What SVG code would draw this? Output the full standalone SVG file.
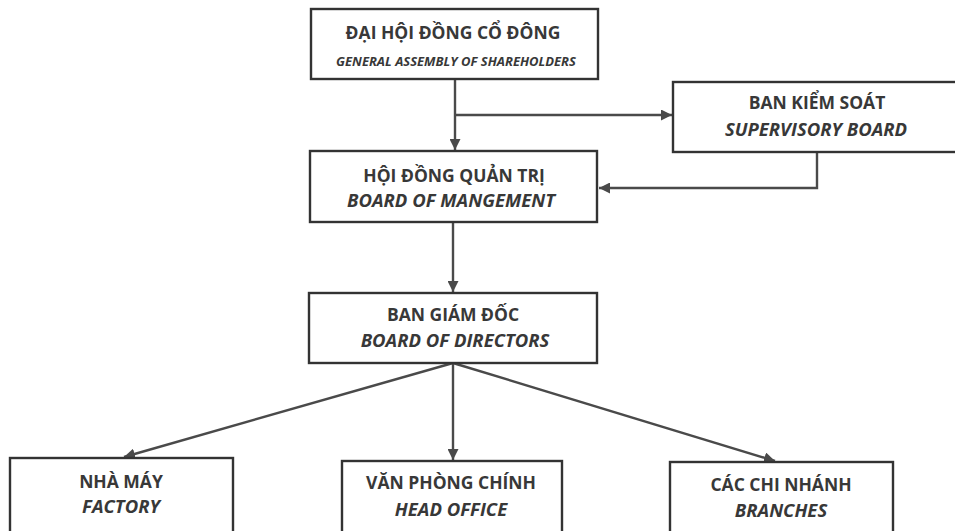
<svg xmlns="http://www.w3.org/2000/svg" width="955" height="531" viewBox="0 0 955 531">
<defs>
<marker id="ah" viewBox="0 0 10 10" refX="10" refY="5" markerWidth="11" markerHeight="11" markerUnits="userSpaceOnUse" orient="auto">
<path d="M0,0 L10,5 L0,10 z" fill="#4a4a4a"/>
</marker>
<style>
.box{fill:#fff;stroke:#333;stroke-width:2.4}
.t{font-family:"Open Sans","Liberation Sans",sans-serif;font-weight:bold;fill:#383838;text-anchor:middle;font-size:17.5px}
.s{font-family:"Open Sans","Liberation Sans",sans-serif;font-weight:bold;font-style:italic;fill:#383838;text-anchor:middle;font-size:18.5px}
.c{fill:none;stroke:#4a4a4a;stroke-width:2.4;marker-end:url(#ah)}
</style>
</defs>
<rect width="955" height="531" fill="#fff"/>
<g id="connectors">
<path class="c" d="M455,80 V150"/>
<path class="c" d="M455,115 H672"/>
<path class="c" d="M817,152 V188 H599"/>
<path class="c" d="M453,222 V292"/>
<path class="c" d="M453,363 L124,457"/>
<path class="c" d="M453,363 V460"/>
<path class="c" d="M453,363 L775,461"/>
</g>
<g id="dhcd">
<rect class="box" x="311" y="9" width="287" height="70"/>
<text class="t" x="453" y="39">ĐẠI HỘI ĐỒNG CỔ ĐÔNG</text>
<text class="s" x="456" y="66" style="font-size:13px">GENERAL ASSEMBLY OF SHAREHOLDERS</text>
</g>
<g id="bks">
<rect class="box" x="673" y="82" width="300" height="70"/>
<text class="t" x="817" y="109">BAN KIỂM SOÁT</text>
<text class="s" x="816" y="136">SUPERVISORY BOARD</text>
</g>
<g id="hdqt">
<rect class="box" x="310" y="151" width="287" height="71"/>
<text class="t" x="454" y="182">HỘI ĐỒNG QUẢN TRỊ</text>
<text class="s" x="451" y="207">BOARD OF MANGEMENT</text>
</g>
<g id="bgd">
<rect class="box" x="309" y="293" width="288" height="70"/>
<text class="t" x="453" y="321">BAN GIÁM ĐỐC</text>
<text class="s" x="455" y="347">BOARD OF DIRECTORS</text>
</g>
<g id="factory">
<rect class="box" x="10" y="458" width="223" height="80"/>
<text class="t" x="121" y="488">NHÀ MÁY</text>
<text class="s" x="121" y="513">FACTORY</text>
</g>
<g id="headoffice">
<rect class="box" x="342" y="461" width="220" height="80"/>
<text class="t" x="451" y="489">VĂN PHÒNG CHÍNH</text>
<text class="s" x="451" y="516">HEAD OFFICE</text>
</g>
<g id="branches">
<rect class="box" x="670" y="462" width="223" height="80"/>
<text class="t" x="781" y="491">CÁC CHI NHÁNH</text>
<text class="s" x="781" y="517">BRANCHES</text>
</g>
</svg>
